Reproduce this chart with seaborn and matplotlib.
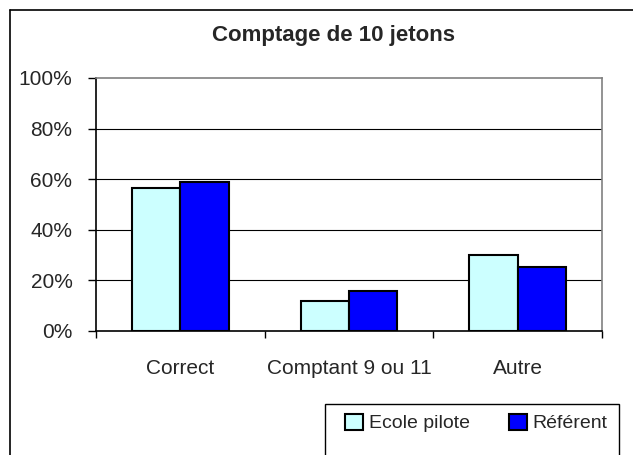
import numpy as np
import pandas as pd
import matplotlib
matplotlib.use("Agg")
import matplotlib.pyplot as plt
from matplotlib.lines import Line2D
from matplotlib.patches import Rectangle
from matplotlib.ticker import FuncFormatter
import seaborn as sns

# data
categories = ["Correct", "Comptant 9 ou 11", "Autre"]
ecole_pilote = [56.6, 11.9, 29.9]
referent = [59.0, 15.8, 25.3]
series = ["Ecole pilote", "Référent"]

df = pd.DataFrame({
    "categorie": categories * 2,
    "groupe": [series[0]] * 3 + [series[1]] * 3,
    "pct": ecole_pilote + referent,
})

sns.set_style("white")
plt.rcParams["font.family"] = ["Liberation Sans", "DejaVu Sans"]

W, H = 633, 455
fig = plt.figure(figsize=(W / 100, H / 100), dpi=100)
ax = fig.add_axes([96 / W, 1 - 331 / H, (602 - 96) / W, (331 - 78) / H])

sns.barplot(data=df, x="categorie", y="pct", hue="groupe", order=categories,
            hue_order=series, palette=["#CCFFFF", "#0000FF"], width=0.575,
            edgecolor="black", linewidth=1.5, saturation=1, ax=ax, zorder=3)

ax.set_xlim(-0.5, 2.5)
ax.set_ylim(0, 100)
ax.set_yticks([0, 20, 40, 60, 80, 100])
ax.yaxis.set_major_formatter(FuncFormatter(lambda v, p: f"{v:.0f}%"))
ax.set_xlabel("")
ax.set_ylabel("")

for y in [20, 40, 60, 80]:
    ax.axhline(y, color="black", lw=0.8, zorder=1)

for side in ["top", "right"]:
    ax.spines[side].set_color("#808080")
    ax.spines[side].set_linewidth(1.2)
for side in ["left", "bottom"]:
    ax.spines[side].set_color("black")
    ax.spines[side].set_linewidth(1.2)

ax.tick_params(axis="y", direction="out", length=6, width=1, color="black",
               pad=11, labelsize=15, left=True)
ax.tick_params(axis="x", which="major", length=0, pad=20, labelsize=15)
ax.set_xticks([-0.5, 0.5, 1.5, 2.5], minor=True)
ax.tick_params(axis="x", which="minor", direction="out", length=5, width=1,
               color="black", bottom=True)

# legend
handles = ax.get_legend_handles_labels()
ax.legend(handles[0], handles[1], ncol=2, loc="center left",
          bbox_to_anchor=(345 / W, 1 - 423 / H), bbox_transform=fig.transFigure,
          frameon=False, fontsize=14, borderpad=0, borderaxespad=0,
          handlelength=0.93, handleheight=0.93, handletextpad=0.3,
          columnspacing=2.0)
fig.patches.append(Rectangle((325 / W, -0.05), (619 - 325) / W, (455 - 404) / H + 0.05,
                             transform=fig.transFigure, fill=False,
                             edgecolor="black", lw=1))

# chart border (cropped on right and bottom)
fig.lines.append(Line2D([10 / W, 10 / W], [0, 1 - 10 / H], transform=fig.transFigure,
                        color="black", lw=1.2))
fig.lines.append(Line2D([10 / W, 1], [1 - 10 / H, 1 - 10 / H], transform=fig.transFigure,
                        color="black", lw=1.2))

fig.text(333 / W, 1 - 41 / H, "Comptage de 10 jetons", ha="center", va="baseline",
         fontsize=16, fontweight="bold")

fig.savefig("out.png", dpi=100)
